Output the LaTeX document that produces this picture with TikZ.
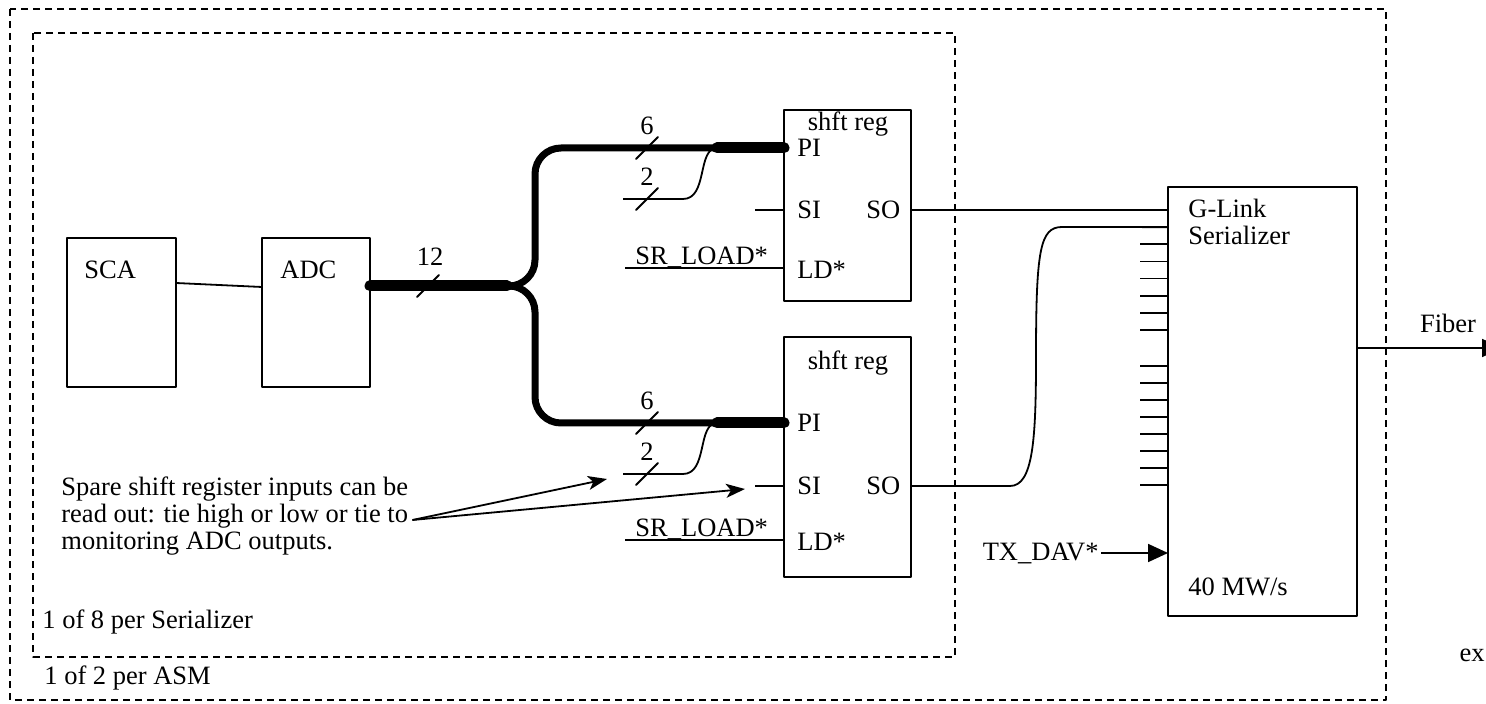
\documentclass[tikz,border=0pt]{standalone}
\usepackage{fontspec}
\setmainfont{Liberation Serif}
\usetikzlibrary{arrows.meta,positioning,calc}
\tikzset{
    every picture/.style={line cap=round,line join=round},
    blockbox/.style={draw,line width=0.9pt,inner sep=0pt,outer sep=0pt},
    boxtext/.style={inner sep=0pt,anchor=west},
    pinlabel/.style={inner sep=0pt,anchor=west},
    wire/.style={draw,line width=0.9pt,line cap=butt},
    busline/.style={draw,line width=3.5pt,line cap=butt},
    busend/.style={draw,line width=5.5pt,line cap=round},
    slashmark/.style={draw,line width=0.9pt},
    boundary/.style={draw,line width=0.9pt,line cap=butt,dash pattern=on 3.5pt off 2.5pt},
    sigarrow/.style={wire,-{Triangle[length=10pt,width=9pt]}},
    notearrow/.style={wire,-{Stealth[length=9.5pt,width=7pt,inset=2.5pt]}}
}

\begin{document}
\begin{tikzpicture}[x=0.5pt,y=-0.5pt,font=\fontsize{13.25}{13.5}\selectfont]
  \useasboundingbox (0,0) rectangle (1486,704);
  \draw[boundary] (10,9) rectangle (1386,700);
  \draw[boundary] (33,33) rectangle (955,657);
  \node[boxtext] (asm) at (44,678) {1 of 2 per ASM};
  \node[boxtext] (per8) at (42,622) {1 of 8 per Serializer};

  \node[blockbox,minimum width=54.5pt,minimum height=74.5pt] (sca) at (121.5,312.5) {};
  \node[blockbox,minimum width=54pt,minimum height=74.5pt] (adc) at (316,312.5) {};
  \node[boxtext] (scat) at (84,270) {SCA};
  \node[boxtext] (adct) at (280,270) {ADC};
  \draw[wire] ($(sca.east)+(0,-29.5)$) -- ($(adc.west)+(0,-25.5)$);

  \foreach \r/\cy/\h/\ty/\pi/\si/\ld in {A/205.5/95.5pt/124/148/210/268, B/457/120pt/363/423/486/540}{
    \node[blockbox,minimum width=63.5pt,minimum height=\h] (sr\r) at (847.5,\cy) {};
    \node (title\r) at (848,\ty) {shft reg};
    \node[pinlabel] (pi\r) at (797,\pi) {PI};
    \node[pinlabel] (si\r) at (797,\si) {SI};
    \node[pinlabel] (ld\r) at (797,\ld+2) {LD*};
    \node[pinlabel] (so\r) at (866,\si) {SO};
    \node[anchor=south west,inner sep=0pt] (load\r) at (635,\ld) {SR\_LOAD*};
    \draw[wire] ([xshift=-5pt]load\r.south west) -- (sr\r.west |- load\r.south);
    \draw[wire] ($(sr\r.west |- si\r)+(-29,0)$) -- (sr\r.west |- si\r);
    \coordinate (tap\r) at (717,\pi);
    \coordinate (two\r) at (623,\pi+51);
    \draw[busline,rounded corners=13pt] (507,286) -| (535,\pi) -- (tap\r);
    \draw[busend] (tap\r) -- (sr\r.west |- pi\r);
    \draw[wire] (two\r) -- ++(60,0) .. controls +(25,0) and (697,\pi) .. (tap\r);
    \node (six\r) at (647,\pi-22) {6};
    \node (bits\r) at (647,\pi+29) {2};
  }
  \draw[busend] ($(adc.east)+(0,-26.5)$) -- (507,286);
  \node (twelve) at (430,257) {12};
  \foreach \p in {(428,286),(647,148),(647,199),(647,423),(647,474)}
    \draw[slashmark] \p ++(-11,11) -- ++(22,-22);

  \node[blockbox,minimum width=94.5pt,minimum height=214.5pt] (ser) at (1262.5,401.5) {};
  \node[anchor=north west,align=left,inner sep=0pt] (sert) at (1188,199) {G-Link\\Serializer};
  \node[boxtext] (rate) at (1188,587) {40 MW/s};
  \foreach \k in {0,...,7}{
    \coordinate (in\k) at (1168,{210+17.14*\k});
    \coordinate (inb\k) at (1168,{366+17*\k});
    \draw[wire] (in\k) -- ++(-28,0);
    \draw[wire] (inb\k) -- ++(-28,0);
  }
  \draw[wire] (srA.east |- soA) -- (in0);
  \draw[wire] (srB.east |- soB) -- (1010,486) .. controls (1033,486) and (1036,440) .. (1036,357)
    .. controls (1036,250) and (1040,227) .. (1062,227) -- (in1);

  \node[anchor=east,inner sep=1pt] (txdav) at (1101,553) {TX\_DAV*};
  \draw[sigarrow] (txdav) -- (ser.west |- txdav);
  \coordinate (fiberend) at (1502,348);
  \draw[sigarrow] (ser.east |- fiberend) -- (fiberend);
  \node (fiber) at (1448,323) {Fiber};
  \node (ex) at (1472,655) {ex};

  \node[anchor=west,align=left,inner sep=0pt] (note) at (61,516)
    {Spare shift register inputs can be\\read out: tie high or low or tie to\\monitoring ADC outputs.};
  \coordinate (spareA) at (607,479);
  \coordinate (spareB) at (745,489);
  \draw[notearrow] ([xshift=2pt,yshift=-2pt]note.east) -- (spareA);
  \draw[notearrow] ([xshift=2pt,yshift=-2pt]note.east) -- (spareB);
\end{tikzpicture}
\end{document}
